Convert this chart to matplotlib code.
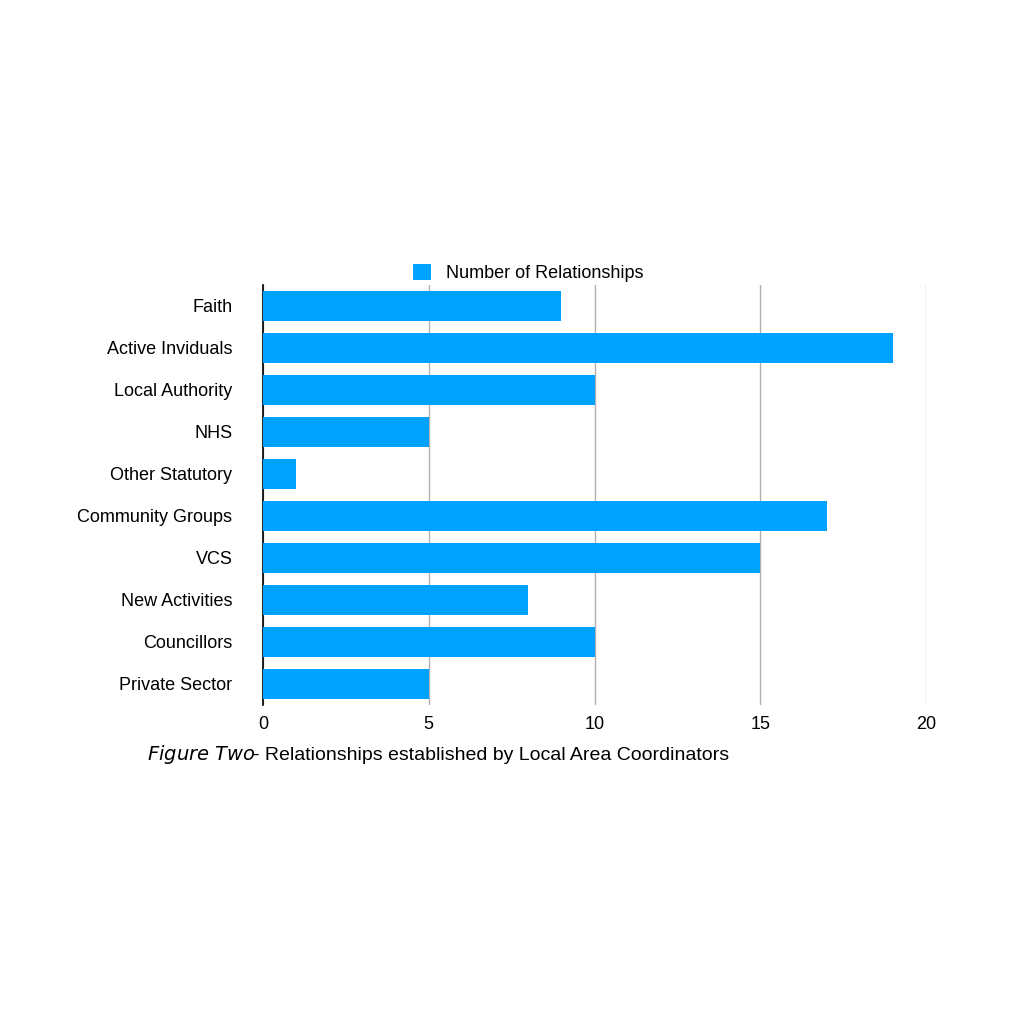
import matplotlib
matplotlib.use("Agg")
import matplotlib.pyplot as plt
plt.rcParams["font.family"] = "Liberation Sans"

categories = ["Faith", "Active Inviduals", "Local Authority", "NHS", "Other Statutory",
              "Community Groups", "VCS", "New Activities", "Councillors", "Private Sector"]
values = [9, 19, 10, 5, 1, 17, 15, 8, 10, 5]
xticks = [0, 5, 10, 15, 20]

fig = plt.figure(figsize=(10.24, 10.24), dpi=100)
ax = fig.add_axes([263/1024, 1-705/1024, (926-263)/1024, (705-285)/1024])
y = list(range(len(categories)))
ax.barh(y, values, height=0.7, color="#00A2FF", zorder=3, label="Number of Relationships")
ax.set_ylim(len(categories)-0.5, -0.5)
ax.set_xlim(0, 20)
ax.set_yticks(y)
ax.set_yticklabels(categories, fontsize=13)
ax.set_xticks(xticks)
ax.set_xticklabels([str(t) for t in xticks], fontsize=13)
ax.tick_params(length=0, pad=8)
ax.tick_params(axis="y", pad=22)
for s in ["top", "right", "bottom"]:
    ax.spines[s].set_visible(False)
ax.spines["left"].set_color("black")
ax.spines["left"].set_linewidth(1.2)
ax.grid(axis="x", color="#b0b0b0", linewidth=1, zorder=0)
ax.legend(loc="lower center", bbox_to_anchor=(0.4, 0.99), frameon=False, fontsize=13,
          handlelength=1.0, handleheight=1.0, borderaxespad=0)
fig.text(147/1024, 1-755/1024, r"$\bf{\it{Figure\ Two}}$", fontsize=14, va="center")
fig.text(147/1024, 1-755/1024, "", fontsize=14)
t = fig.text(253/1024, 1-755/1024, "- Relationships established by Local Area Coordinators",
             fontsize=14, va="center")
fig.savefig("out.png", dpi=100, facecolor="white")
